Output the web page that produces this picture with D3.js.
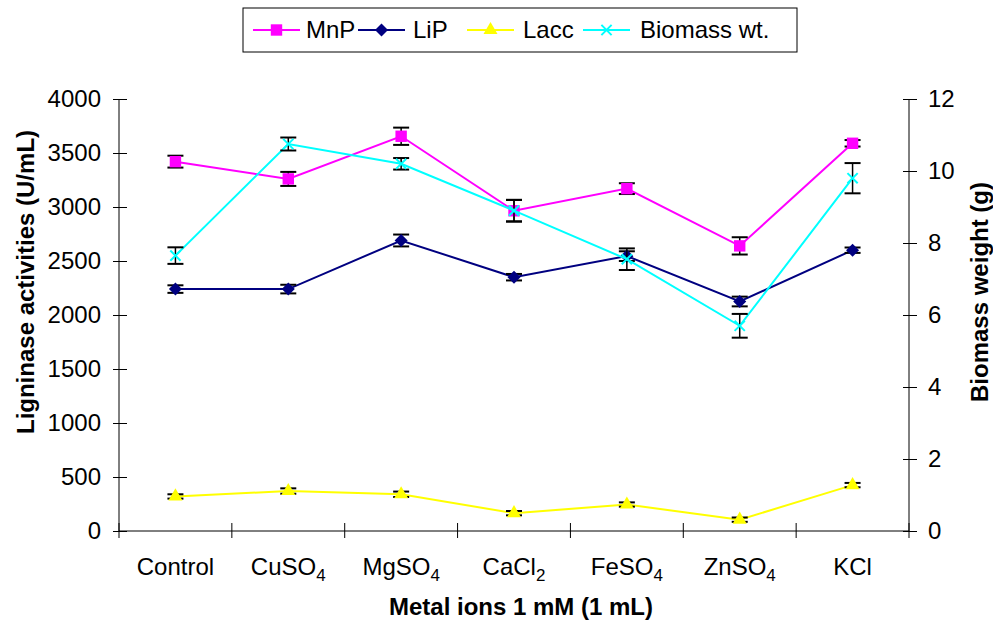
<!DOCTYPE html>
<html>
<head>
<meta charset="utf-8">
<script src="https://cdn.jsdelivr.net/npm/d3@7"></script>
<style>
body { margin: 0; background: #fff; }
svg { font-family: "Liberation Sans", Arial, sans-serif; }
</style>
</head>
<body>
<div id="chart"></div>
<script>
// data
const categories = ["Control", "CuSO4", "MgSO4", "CaCl2", "FeSO4", "ZnSO4", "KCl"]
const mnp = [3420, 3260, 3655, 2965, 3170, 2640, 3590]
const mnpErr = [55, 65, 80, 100, 50, 80, 30]
const lip = [2240, 2240, 2690, 2350, 2545, 2125, 2600]
const lipErr = [35, 40, 55, 30, 45, 45, 25]
const lacc = [320, 370, 340, 165, 245, 105, 425]
const laccErr = [20, 25, 25, 20, 20, 20, 20]
const biomass = [7.65, 10.75, 10.2, 8.9, 7.55, 5.7, 9.8]
const biomassErr = [0.23, 0.18, 0.16, 0.3, 0.3, 0.33, 0.42]
const leftTicks = [0, 500, 1000, 1500, 2000, 2500, 3000, 3500, 4000]
const rightTicks = [0, 2, 4, 6, 8, 10, 12]

const width = 993, height = 624
const plotLeft = 119, plotRight = 909, plotTop = 99, plotBottom = 531

const svg = d3.select("#chart").append("svg")
    .attr("width", width)
    .attr("height", height)
    .style("font-size", "24px")

const x = d3.scaleBand().domain(categories).range([plotLeft, plotRight])
const yL = d3.scaleLinear().domain([0, 4000]).range([plotBottom, plotTop])
const yR = d3.scaleLinear().domain([0, 12]).range([plotBottom, plotTop])

// left axis
const gL = svg.append("g")
    .attr("transform", `translate(${plotLeft},0)`)
    .call(d3.axisLeft(yL).tickValues(leftTicks).tickFormat(d3.format("d")).tickSize(6).tickPadding(12))
gL.selectAll(".tick line").attr("x1", 8).attr("x2", -6)
gL.select(".domain").attr("d", `M0,${plotTop}V${plotBottom}`)
gL.selectAll("text").style("font-size", "24px").attr("fill", "#000")

// right axis
const gR = svg.append("g")
    .attr("transform", `translate(${plotRight},0)`)
    .call(d3.axisRight(yR).tickValues(rightTicks).tickSize(8).tickPadding(11))
gR.selectAll(".tick line").attr("x1", -6).attr("x2", 8)
gR.select(".domain").attr("d", `M0,${plotTop}V${plotBottom}`)
gR.selectAll("text").style("font-size", "24px").attr("fill", "#000")

// x axis with ticks between categories
const edges = categories.map(c => x(c)).concat([plotRight])
svg.append("line")
    .attr("x1", plotLeft).attr("x2", plotRight)
    .attr("y1", plotBottom).attr("y2", plotBottom)
    .attr("stroke", "#000")
svg.selectAll(".xtick")
    .data(edges)
    .enter().append("line")
    .attr("x1", d => d).attr("x2", d => d)
    .attr("y1", plotBottom - 8).attr("y2", plotBottom + 7)
    .attr("stroke", "#000")

const xl = svg.selectAll(".xlab")
    .data(categories)
    .enter().append("text")
    .attr("x", d => x(d) + x.bandwidth() / 2)
    .attr("y", 575)
    .attr("text-anchor", "middle")
xl.each(function(d) {
    const t = d3.select(this)
    d.match(/[A-Za-z]+|\d+/g).forEach(part => {
        if (/\d/.test(part)) {
            t.append("tspan").attr("dy", 6).style("font-size", "17px").text(part)
        } else {
            t.append("tspan").text(part)
        }
    })
})

// axis titles
svg.append("text")
    .attr("transform", "translate(34,282) rotate(-90)")
    .attr("text-anchor", "middle")
    .style("font-weight", "bold")
    .text("Ligninase activities (U/mL)")
svg.append("text")
    .attr("transform", "translate(988,292) rotate(-90)")
    .attr("text-anchor", "middle")
    .style("font-weight", "bold")
    .text("Biomass weight (g)")
svg.append("text")
    .attr("x", 521).attr("y", 615)
    .attr("text-anchor", "middle")
    .style("font-weight", "bold")
    .text("Metal ions 1 mM (1 mL)")

const series = [
    {name: "MnP", values: mnp, err: mnpErr, y: yL, color: "#ff00ff", symbol: "square"},
    {name: "LiP", values: lip, err: lipErr, y: yL, color: "#000080", symbol: "diamond"},
    {name: "Lacc", values: lacc, err: laccErr, y: yL, color: "#ffff00", symbol: "triangle"},
    {name: "Biomass wt.", values: biomass, err: biomassErr, y: yR, color: "#00ffff", symbol: "x"}
]

function drawMarker(g, s) {
    if (s.symbol == "square") {
        g.append("path").attr("d", d3.symbol(d3.symbolSquare, 130)).attr("fill", s.color)
    } else if (s.symbol == "diamond") {
        g.append("path").attr("d", d3.symbol(d3.symbolSquare, 85)).attr("fill", s.color)
            .attr("transform", "rotate(45)")
    } else if (s.symbol == "triangle") {
        g.append("path").attr("d", d3.symbol(d3.symbolTriangle, 85)).attr("fill", s.color)
    } else {
        g.append("path").attr("d", d3.symbol(d3.symbolX, 70)).attr("fill", "none")
            .attr("stroke", s.color).attr("stroke-width", 2)
    }
}

const cx = c => x(c) + x.bandwidth() / 2

series.forEach(s => {
    const pts = categories.map((c, i) => ({c: c, v: s.values[i], e: s.err[i]}))
    const line = d3.line().x(d => cx(d.c)).y(d => s.y(d.v))
    svg.append("path")
        .datum(pts)
        .attr("d", line)
        .attr("fill", "none")
        .attr("stroke", s.color)
        .attr("stroke-width", 2)

    const eb = svg.selectAll(null)
        .data(pts)
        .enter().append("g")
        .attr("stroke", "#000")
    eb.append("line")
        .attr("x1", d => cx(d.c)).attr("x2", d => cx(d.c))
        .attr("y1", d => s.y(d.v - d.e)).attr("y2", d => s.y(d.v + d.e))
        .attr("stroke-width", 1.5)
    eb.selectAll(null)
        .data(d => [d.v - d.e, d.v + d.e].map(v => ({c: d.c, v: v})))
        .enter().append("line")
        .attr("x1", d => cx(d.c) - 8).attr("x2", d => cx(d.c) + 8)
        .attr("y1", d => s.y(d.v)).attr("y2", d => s.y(d.v))
        .attr("stroke-width", 2)

    svg.selectAll(null)
        .data(pts)
        .enter().append("g")
        .attr("transform", d => `translate(${cx(d.c)},${s.y(d.v)})`)
        .each(function() { drawMarker(d3.select(this), s) })
})

// legend
const legend = svg.append("g")
legend.append("rect")
    .attr("x", 243).attr("y", 8)
    .attr("width", 554).attr("height", 44)
    .attr("fill", "#fff").attr("stroke", "#000")
const legendLine = [253, 358, 467, 583]
const legendText = [306, 413, 523, 640]
series.forEach((s, i) => {
    const g = legend.append("g").attr("transform", `translate(0,30)`)
    g.append("line").attr("x1", legendLine[i]).attr("x2", legendLine[i] + 47)
        .attr("stroke", s.color).attr("stroke-width", 2)
    const m = g.append("g").attr("transform", `translate(${legendLine[i] + 23.5},0)`)
    drawMarker(m, s)
    g.append("text").attr("x", legendText[i]).attr("dy", "0.35em").text(s.name)
})
</script>
</body>
</html>
